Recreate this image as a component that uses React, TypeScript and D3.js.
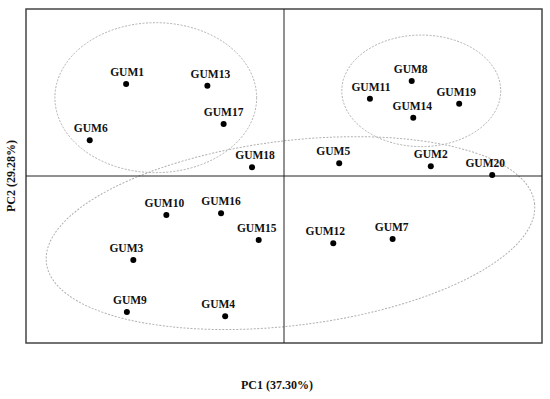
import React from 'react';
import * as d3 from 'd3';

// sample names and their scores on the first two components
const names = [
  'GUM1', 'GUM2', 'GUM3', 'GUM4', 'GUM5', 'GUM6', 'GUM7', 'GUM8', 'GUM9', 'GUM10',
  'GUM11', 'GUM12', 'GUM13', 'GUM14', 'GUM15', 'GUM16', 'GUM17', 'GUM18', 'GUM19', 'GUM20',
];
const pc1 = [
  -0.612, 0.569, -0.584, -0.228, 0.214, -0.753, 0.421, 0.495, -0.609, -0.456,
  0.333, 0.191, -0.297, 0.501, -0.098, -0.244, -0.234, -0.124, 0.679, 0.807,
];
const pc2 = [
  0.551, 0.058, -0.503, -0.84, 0.076, 0.214, -0.377, 0.569, -0.814, -0.234,
  0.463, -0.403, 0.541, 0.349, -0.383, -0.223, 0.311, 0.052, 0.433, 0.006,
];
// horizontal nudge of each label relative to its point (in px)
const labelDx = [1, 0, -7, -7, -6, 1, -1, -1, 3, -2, 1, -8, 3, -1, -2, 0, 0, 3, -3, -7];

// group ellipses, in data units: centre, semi-axes, rotation (deg)
const groupCx = [-0.497, 0.532, 0.025];
const groupCy = [0.469, 0.51, -0.342];
const groupRx = [0.391, 0.308, 0.953];
const groupRy = [0.449, 0.334, 0.553];
const groupAngle = [0, 0, -7];

const xAxisLabel = 'PC1 (37.30%)';
const yAxisLabel = 'PC2 (29.28%)';

const W = 550;
const H = 399;
const left = 26;
const right = 542;
const top = 9;
const bottom = 343;
const font = "'Liberation Serif', 'Times New Roman', serif";

export default function App() {
  const x = d3.scaleLinear().domain([-1, 1]).range([left, right]);
  const y = d3.scaleLinear().domain([-1, 1]).range([bottom, top]);
  const pxPerX = (right - left) / 2;
  const pxPerY = (bottom - top) / 2;

  return (
    <svg width={W} height={H} style={{ position: 'absolute', left: 0, top: 0 }}>
      <rect x={0} y={0} width={W} height={H} fill="#fff" />

      {groupCx.map((cx, i) => (
        <ellipse
          key={'e' + i}
          cx={x(cx)}
          cy={y(groupCy[i])}
          rx={groupRx[i] * pxPerX}
          ry={groupRy[i] * pxPerY}
          transform={`rotate(${groupAngle[i]} ${x(cx)} ${y(groupCy[i])})`}
          fill="none"
          stroke="#b0b0b0"
          strokeWidth={1}
          strokeDasharray="2,1.5"
        />
      ))}

      <rect
        x={left}
        y={top}
        width={right - left}
        height={bottom - top}
        fill="none"
        stroke="#444"
        strokeWidth={1.5}
      />
      <line x1={x(0)} x2={x(0)} y1={top} y2={bottom} stroke="#222" strokeWidth={1} />
      <line x1={left} x2={right} y1={y(0)} y2={y(0)} stroke="#222" strokeWidth={1} />

      {names.map((n, i) => (
        <g key={n}>
          <circle cx={x(pc1[i])} cy={y(pc2[i])} r={3} fill="#000" />
          <text
            x={x(pc1[i]) + labelDx[i]}
            y={y(pc2[i]) - 8}
            textAnchor="middle"
            fontFamily={font}
            fontWeight="bold"
            fontSize={11.5}
            fill="#111"
          >
            {n}
          </text>
        </g>
      ))}

      <text
        x={277}
        y={389}
        textAnchor="middle"
        fontFamily={font}
        fontWeight="bold"
        fontSize={12}
        fill="#111"
      >
        {xAxisLabel}
      </text>
      <text
        transform="translate(15,176) rotate(-90)"
        textAnchor="middle"
        fontFamily={font}
        fontWeight="bold"
        fontSize={12}
        fill="#111"
      >
        {yAxisLabel}
      </text>
    </svg>
  );
}
